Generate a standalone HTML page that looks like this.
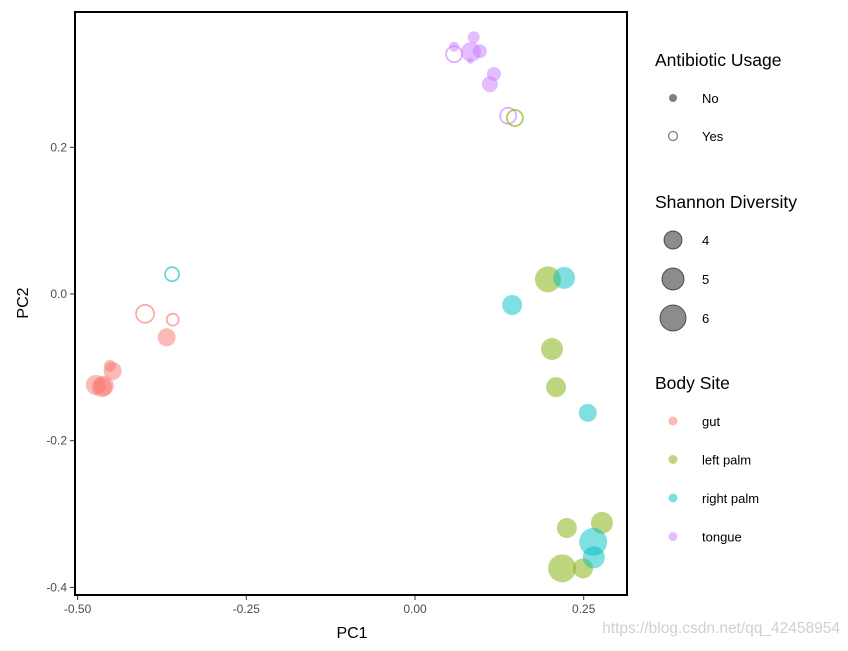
<!DOCTYPE html>
<html><head><meta charset="utf-8"><style>
body{margin:0;background:#fff;font-family:"Liberation Sans",sans-serif;}
</style></head><body>
<svg id="c" width="848" height="646" xmlns="http://www.w3.org/2000/svg" style="font-family:'Liberation Sans',sans-serif">
<rect x="75" y="12" width="552" height="583" fill="#fff" stroke="#000" stroke-width="2"/>
<g id="marks"></g>
<g id="axes"></g>
<text x="352" y="638" text-anchor="middle" font-size="16">PC1</text>
<text x="28" y="303" text-anchor="middle" font-size="16" transform="rotate(-90 28 303)">PC2</text>
<g id="legend"></g>
<text x="840" y="633" text-anchor="end" font-size="15.5" fill="#d0d0d0">https://blog.csdn.net/qq_42458954</text>
</svg>
<script>
const pc1 = [0.058,0.058,0.087,0.083,0.096,0.082,0.117,0.111,0.138,0.148,-0.400,-0.359,-0.368,-0.452,-0.448,-0.473,-0.464,-0.461,-0.360,0.197,0.203,0.209,0.225,0.277,0.218,0.249,0.221,0.144,0.256,0.264,0.265];
const pc2 = [0.337,0.327,0.350,0.330,0.331,0.318,0.300,0.286,0.243,0.240,-0.027,-0.035,-0.059,-0.098,-0.105,-0.124,-0.127,-0.125,0.027,0.020,-0.075,-0.127,-0.319,-0.312,-0.374,-0.374,0.022,-0.015,-0.162,-0.338,-0.359];
const shannon = [3,4.5,3.5,5.5,4,2,4,4.5,4.5,4.5,5,3.5,5,3.5,5,5.5,5.5,5.5,4,7,6,5.5,5.5,6,7.5,5.5,6,5.5,5,7.5,6];
const site = ["tongue","tongue","tongue","tongue","tongue","tongue","tongue","tongue","tongue","left palm","gut","gut","gut","gut","gut","gut","gut","gut","right palm","left palm","left palm","left palm","left palm","left palm","left palm","left palm","right palm","right palm","right palm","right palm","right palm"];
const antibiotic = ["No","Yes","No","No","No","No","No","No","Yes","Yes","Yes","Yes","No","No","No","No","No","No","Yes","No","No","No","No","No","No","No","No","No","No","No","No"];
const xTicks = [-0.5,-0.25,0,0.25];
const xTickLabels = ["-0.50","-0.25","0.00","0.25"];
const yTicks = [0.2,0,-0.2,-0.4];
const yTickLabels = ["0.2","0.0","-0.2","-0.4"];
const siteNames = ["gut","left palm","right palm","tongue"];
const siteColors = {"gut":"#F8766D","left palm":"#7CAE00","right palm":"#00BFC4","tongue":"#C77CFF"};
const sizeLegend = [4,5,6];

const NS="http://www.w3.org/2000/svg";
const xs = v => 415 + v*674.8;
const ys = v => 294 - v*733.5;
const rs = s => 7 + 2*(s-4);
function mk(tag, attrs, parent){const e=document.createElementNS(NS,tag);for(const k in attrs)e.setAttribute(k,attrs[k]);parent.appendChild(e);return e;}
const marks=document.getElementById('marks');
pc1.forEach((v,i)=>{
  const col=siteColors[site[i]];
  const open=antibiotic[i]==="Yes";
  const c=mk('circle',{cx:xs(v),cy:ys(pc2[i]),r:Math.max(2,rs(shannon[i])),
    fill:open?'none':col,'fill-opacity':0.5,stroke:open?col:'none','stroke-opacity':0.6,'stroke-width':1.8},marks);
  
  
});
const axes=document.getElementById('axes');
xTicks.forEach((t,i)=>{
  const l=mk('line',{x1:xs(t),x2:xs(t),y1:596,y2:600,stroke:'#333'},axes);
  
  
  const tx=mk('text',{x:xs(t),y:613,'text-anchor':'middle','font-size':12,fill:'#4d4d4d'},axes);
  tx.textContent=xTickLabels[i];
  
  
});
yTicks.forEach((t,i)=>{
  const l=mk('line',{x1:70,x2:74,y1:ys(t),y2:ys(t),stroke:'#333'},axes);
  
  
  const tx=mk('text',{x:67,y:ys(t)+4,'text-anchor':'end','font-size':12,fill:'#4d4d4d'},axes);
  tx.textContent=yTickLabels[i];
  
  
});
const lg=document.getElementById('legend');
function title(t,y){const e=mk('text',{x:655,y:y,'font-size':17.5},lg);e.textContent=t;
  
  }
function label(t,y){const e=mk('text',{x:702,y:y+5,'font-size':13},lg);e.textContent=t;
  
  }
title('Antibiotic Usage',66);
let c1=mk('circle',{cx:673,cy:98,r:4,fill:'#000','fill-opacity':0.5},lg);


label('No',98);
let c2=mk('circle',{cx:673,cy:136,r:4.5,fill:'none',stroke:'#000','stroke-opacity':0.5,'stroke-width':1.3},lg);


label('Yes',136);
title('Shannon Diversity',208);
sizeLegend.forEach((s,i)=>{const y=240+i*39;
  const c=mk('circle',{cx:673,cy:y,r:rs(s)+2,fill:'#000','fill-opacity':0.45,stroke:'#000','stroke-opacity':0.6},lg);
  
  
  label(String(s),y);});
title('Body Site',389);
siteNames.forEach((s,i)=>{const y=421+i*38.5;
  const c=mk('circle',{cx:673,cy:y,r:4.5,fill:siteColors[s],'fill-opacity':0.5},lg);
  
  
  label(s,y);});
</script>
</body></html>
